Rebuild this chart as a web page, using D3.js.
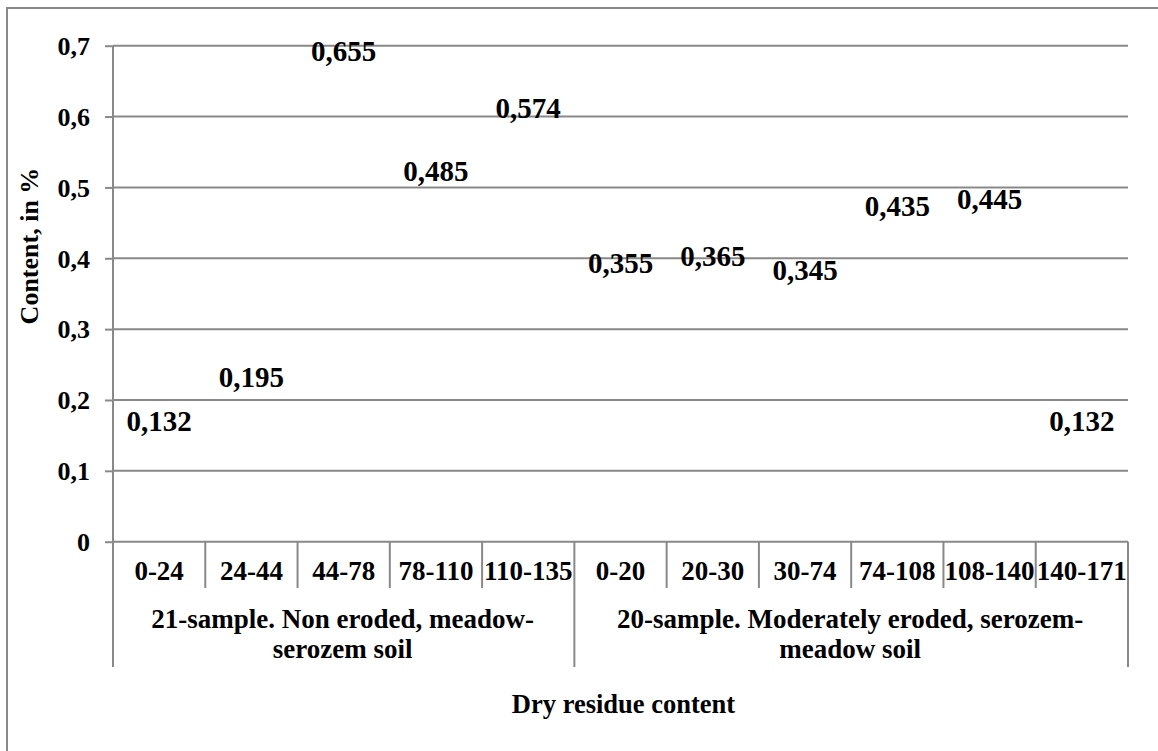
<!DOCTYPE html>
<html>
<head>
<meta charset="utf-8">
<script src="https://cdn.jsdelivr.net/npm/d3@7"></script>
<style>
  html, body { margin: 0; padding: 0; background: #fff; }
  svg { display: block; }
  text { font-family: "Liberation Serif", "Times New Roman", serif; font-weight: bold; fill: #000; }
</style>
</head>
<body>
<svg id="chart" width="1158" height="751"></svg>
<script>
// ---- data ----
const categories = ["0-24", "24-44", "44-78", "78-110", "110-135", "0-20", "20-30", "30-74", "74-108", "108-140", "140-171"];
const groupOf = [0, 0, 0, 0, 0, 1, 1, 1, 1, 1, 1];
const groupLabels = [
  ["21-sample. Non eroded, meadow-", "serozem soil"],
  ["20-sample. Moderately eroded, serozem-", "meadow soil"]
];
const values = [0.132, 0.195, 0.655, 0.485, 0.574, 0.355, 0.365, 0.345, 0.435, 0.445, 0.132];
const yTicks = [0, 0.1, 0.2, 0.3, 0.4, 0.5, 0.6, 0.7];
const yTitle = "Content, in %";
const xTitle = "Dry residue content";

// ---- layout ----
const svg = d3.select("#chart");
const plot = { left: 113, right: 1128, top: 45.7, bottom: 541.7 };
const gridColor = "#898989";

// outer frame
svg.append("rect")
  .attr("x", 7).attr("y", 8).attr("width", 1200).attr("height", 800)
  .attr("fill", "none").attr("stroke", gridColor).attr("stroke-width", 2);

const keys = categories.map((c, i) => i);
const x = d3.scaleBand().domain(keys).range([plot.left, plot.right]).paddingInner(0).paddingOuter(0);
const y = d3.scaleLinear().domain([0, 0.7]).range([plot.bottom, plot.top]);

const fmt = v => String(v).replace(".", ",");

// y axis with ticks
const yAxis = d3.axisLeft(y).tickValues(yTicks).tickSize(8).tickPadding(15)
  .tickFormat(fmt);
const gy = svg.append("g").attr("transform", `translate(${plot.left},0)`).call(yAxis);
gy.select(".domain").remove();
gy.selectAll(".tick line").attr("stroke", gridColor).attr("stroke-width", 2);
gy.selectAll(".tick text").style("font-size", "26px").attr("x", -23).attr("dy", "0.34em");

// gridlines
svg.append("g").selectAll("line").data(yTicks.filter(t => t > 0)).join("line")
  .attr("x1", plot.left).attr("x2", plot.right)
  .attr("y1", d => y(d)).attr("y2", d => y(d))
  .attr("stroke", gridColor).attr("stroke-width", 2);

// invisible bars (no fill, as in reference)
svg.append("g").selectAll("rect").data(values).join("rect")
  .attr("x", (d, i) => x(i)).attr("width", x.bandwidth())
  .attr("y", d => y(d)).attr("height", d => y(0) - y(d))
  .attr("fill", "none");

// x axis baseline
svg.append("line")
  .attr("x1", plot.left).attr("x2", plot.right)
  .attr("y1", y(0)).attr("y2", y(0))
  .attr("stroke", gridColor).attr("stroke-width", 2);
// y axis line extended down (group separator at left)
svg.append("line")
  .attr("x1", plot.left).attr("x2", plot.left)
  .attr("y1", plot.top).attr("y2", 667)
  .attr("stroke", gridColor).attr("stroke-width", 2);

// category separators
const bounds = keys.map(i => x(i)).concat([plot.right]);
svg.append("g").selectAll("line").data(bounds.slice(1)).join("line")
  .attr("x1", d => d).attr("x2", d => d)
  .attr("y1", y(0)).attr("y2", (d, i) => {
    const idx = i + 1;
    const isGroupEdge = idx === categories.length || groupOf[idx] !== groupOf[idx - 1];
    return isGroupEdge ? 667 : 588;
  })
  .attr("stroke", gridColor).attr("stroke-width", 2);

// category labels
svg.append("g").selectAll("text").data(categories).join("text")
  .attr("x", (d, i) => x(i) + x.bandwidth() / 2)
  .attr("y", 580)
  .attr("text-anchor", "middle")
  .style("font-size", "27px")
  .text(d => d);

// group labels
groupLabels.forEach((lines, g) => {
  const idxs = keys.filter(i => groupOf[i] === g);
  const gx0 = x(idxs[0]);
  const gx1 = x(idxs[idxs.length - 1]) + x.bandwidth();
  const cx = (gx0 + gx1) / 2;
  lines.forEach((ln, k) => {
    svg.append("text")
      .attr("x", cx - 1).attr("y", 628 + k * 30)
      .attr("text-anchor", "middle")
      .style("font-size", "27px")
      .text(ln);
  });
});

// data labels
svg.append("g").selectAll("text").data(values).join("text")
  .attr("x", (d, i) => x(i) + x.bandwidth() / 2)
  .attr("y", d => y(d) - 17)
  .attr("text-anchor", "middle")
  .style("font-size", "29px")
  .text(d => fmt(d));

// axis titles
svg.append("text")
  .attr("x", (plot.left + plot.right) / 2 + 3).attr("y", 713)
  .attr("text-anchor", "middle")
  .style("font-size", "26.5px")
  .text(xTitle);

svg.append("text")
  .attr("transform", `translate(38,246) rotate(-90)`)
  .attr("text-anchor", "middle")
  .style("font-size", "26px")
  .text(yTitle);
</script>
</body>
</html>
